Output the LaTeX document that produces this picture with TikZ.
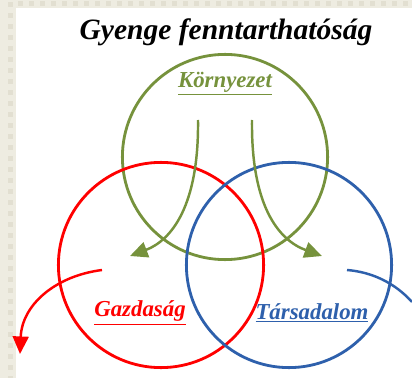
\documentclass[tikz,border=0pt]{standalone}
\usepackage{fontspec}
\setmainfont{Liberation Serif}
\usepackage{tikz}
\usetikzlibrary{arrows.meta}
\definecolor{kornyezet}{RGB}{118,146,60}
\definecolor{gazdasag}{RGB}{255,0,0}
\definecolor{tarsadalom}{RGB}{46,96,172}
\definecolor{papir}{RGB}{238,236,225}
\definecolor{papirpont}{RGB}{226,223,209}
\tikzset{
  kor/.style={draw,circle,line width=1.6pt,minimum size=206pt*0.02/0.0352778,inner sep=0pt},
  nyil/.style={line width=1.4pt,-{Triangle[length=10pt,width=9pt]}},
  felirat/.style={font=\fontsize{13}{15}\selectfont\bfseries\itshape},
}
\begin{document}
\begin{tikzpicture}[x=0.02cm,y=-0.02cm]
\useasboundingbox (0,0) rectangle (412,378);
% hatter
\fill[papir] (0,0) rectangle (412,378);
\foreach \y in {0,11,...,378} \fill[papirpont] (8,\y+2) rectangle (13,\y+7);
\foreach \x in {16,27,...,412} \fill[papirpont] (\x+2,1) rectangle (\x+7,6);
\fill[white] (16,8) rectangle (412,378);
\node[font=\fontsize{16.8}{20}\selectfont\bfseries\itshape] (cim) at (226,32) {Gyenge fenntarthatóság};
% korok
\node[kor,kornyezet] (k) at (225,157) {};
\node[kor,gazdasag] (g) at (161,265) {};
\node[kor,tarsadalom] (t) at (289,265) {};
% feliratok
\node[felirat,kornyezet] (kf) at (225,84) {\underline{Környezet}};
\node[felirat,gazdasag] (gf) at (140,313) {\underline{Gazdaság}};
\node[felirat,tarsadalom] (tf) at (312,313) {\underline{Társadalom}};
% nyilak
\coordinate (k1) at (198,120);
\coordinate (k1v) at (130,256);
\coordinate (k2) at (252,120);
\coordinate (k2v) at (322,256);
\coordinate (g1) at (102,270);
\coordinate (g1v) at (20,354);
\coordinate (t1) at (347,270);
\coordinate (t1v) at (412,302);
\draw[nyil,kornyezet] (k1) .. controls (199,205) and (172,240) .. (k1v);
\draw[nyil,kornyezet] (k2) .. controls (251,205) and (278,240) .. (k2v);
\draw[nyil,gazdasag] (g1) .. controls (55,276) and (22,305) .. (g1v);
\draw[line width=1.4pt,tarsadalom] (t1) .. controls (372,272) and (395,283) .. (t1v);
\end{tikzpicture}
\end{document}
